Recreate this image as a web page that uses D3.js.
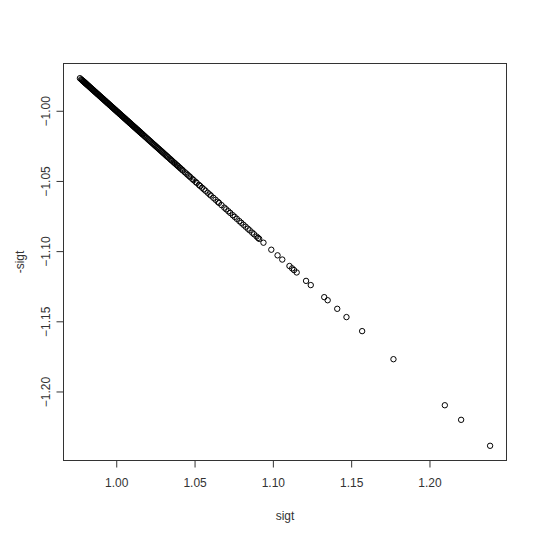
<!DOCTYPE html>
<html><head><meta charset="utf-8">
<script src="https://cdn.jsdelivr.net/npm/d3@7"></script>
<style>body{margin:0;background:#fff;} svg{display:block;}</style>
</head><body>
<script>
const sigt = [
0.9768,0.9776,0.9781,0.9785,0.9789,0.9792,0.9795,0.9798,0.9801,0.9804,0.9807,0.9810,
0.9814,0.9818,0.9822,0.9826,0.9830,0.9834,0.9838,0.9842,0.9846,0.9850,0.9854,0.9858,0.9862,0.9866,0.9870,
0.9874,0.9878,0.9882,0.9886,0.9890,0.9894,0.9898,0.9902,0.9906,0.9910,0.9914,0.9918,0.9922,0.9926,0.9930,
0.9934,0.9938,0.9942,0.9946,0.9950,0.9954,0.9958,0.9962,0.9966,0.9970,0.9974,0.9978,0.9982,0.9986,0.9990,
0.9994,0.9998,1.0002,1.0006,1.0010,1.0014,1.0018,1.0022,1.0026,1.0030,1.0034,1.0038,1.0042,1.0046,1.0050,
1.0054,1.0058,1.0062,1.0066,1.0070,1.0074,1.0078,1.0082,1.0086,1.0090,1.0094,1.0098,1.0102,1.0106,1.0110,
1.0114,1.0118,1.0122,1.0126,1.0130,1.0134,1.0138,1.0142,1.0146,1.0150,1.0154,1.0158,1.0162,1.0166,1.0170,
1.0176,1.0182,1.0188,1.0194,1.0200,1.0206,1.0212,1.0218,1.0224,1.0230,1.0236,1.0242,1.0248,1.0254,1.0260,
1.0266,1.0272,1.0278,1.0284,1.0290,1.0296,1.0302,1.0308,1.0314,1.0320,1.0326,1.0332,1.0340,1.0346,1.0352,
1.0358,1.0366,1.0372,1.0378,1.0386,1.0392,1.0398,1.0406,1.0412,1.0420,1.0426,
1.0438,1.0448,1.0456,1.0466,1.0474,1.0486,1.0494,1.0506,1.0514,1.0528,1.0536,1.0548,1.0560,1.0570,1.0584,
1.0596,1.0604,1.0620,1.0634,1.0648,1.0656,1.0672,1.0690,1.0702,1.0716,1.0728,1.0744,1.0756,1.0770,1.0786,
1.0798,1.0812,1.0826,1.0840,1.0852,1.0868,1.0880,1.0896,1.0906,1.0913,
1.0940,1.0990,1.1030,1.1060,1.1106,1.1123,1.1135,1.1152,1.1212,1.1242,1.1328,1.1350,1.1411,1.1470,1.1570,
1.1770,1.2098,1.2202,1.2387
];
const negSigt = sigt.map(v => -v);
const xTicks = [1.00, 1.05, 1.10, 1.15, 1.20];
const yTicks = [-1.00, -1.05, -1.10, -1.15, -1.20];
const xLabel = "sigt";
const yLabel = "-sigt";

const W = 540, H = 539;
const box = {left: 63.5, right: 506.5, top: 63.5, bottom: 460.5};

function rExtent(arr) {
  const [a, b] = d3.extent(arr);
  const pad = (b - a) * 0.04;
  return [a - pad, b + pad];
}

const x = d3.scaleLinear().domain(rExtent(sigt)).range([box.left, box.right]);
const y = d3.scaleLinear().domain(rExtent(negSigt)).range([box.bottom, box.top]);

const svg = d3.select("body").append("svg").attr("width", W).attr("height", H);
svg.append("rect").attr("width", W).attr("height", H).attr("fill", "#fff");

const font = "'Liberation Sans', Arial, sans-serif";

// points
svg.append("g").selectAll("circle").data(sigt).join("circle")
  .attr("cx", d => x(d)).attr("cy", d => y(-d)).attr("r", 2.7)
  .attr("fill", "none").attr("stroke", "#000").attr("stroke-width", 1);

// box
svg.append("rect").attr("x", box.left).attr("y", box.top)
  .attr("width", box.right - box.left).attr("height", box.bottom - box.top)
  .attr("fill", "none").attr("stroke", "#333").attr("stroke-width", 1);

// x axis
const xAxis = d3.axisBottom(x).tickValues(xTicks).tickFormat(d3.format(".2f")).tickSize(7).tickPadding(11);
const gx = svg.append("g").attr("transform", `translate(0,${box.bottom})`).call(xAxis);
gx.select(".domain").attr("stroke", "#333").attr("d", `M${x(xTicks[0])},0H${x(xTicks[xTicks.length-1])}`);
gx.selectAll(".tick line").attr("stroke", "#333");
gx.selectAll("text").attr("font-family", font).attr("font-size", 12).attr("fill", "#333");

// y axis
const yAxis = d3.axisLeft(y).tickValues(yTicks).tickFormat(d3.format(".2f")).tickSize(7).tickPadding(0);
const gy = svg.append("g").attr("transform", `translate(${box.left},0)`).call(yAxis);
gy.select(".domain").attr("stroke", "#333").attr("d", `M0,${y(yTicks[0])}V${y(yTicks[yTicks.length-1])}`);
gy.selectAll(".tick line").attr("stroke", "#333");
gy.selectAll("text").attr("font-family", font).attr("font-size", 12).attr("fill", "#333")
  .attr("x", null).attr("dy", null)
  .attr("text-anchor", "middle")
  .attr("transform", "translate(-14,0) rotate(-90)");

// axis titles
svg.append("text").attr("x", (box.left + box.right) / 2).attr("y", 520)
  .attr("text-anchor", "middle").attr("font-family", font).attr("font-size", 12).attr("fill", "#333")
  .text(xLabel);
svg.append("text").attr("transform", `translate(24,${(box.top + box.bottom) / 2}) rotate(-90)`)
  .attr("text-anchor", "middle").attr("font-family", font).attr("font-size", 12).attr("fill", "#333")
  .text(yLabel);
</script>
</body></html>
